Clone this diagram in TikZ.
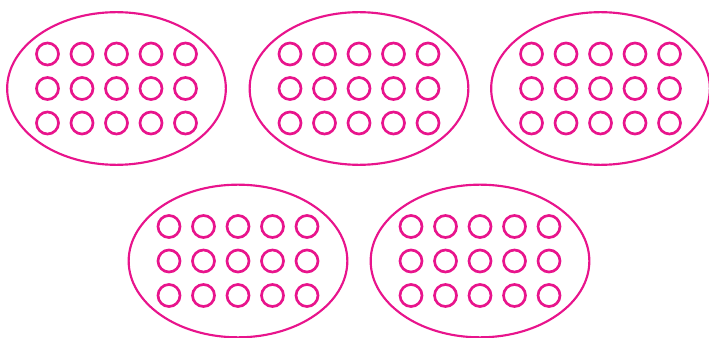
\documentclass[tikz,border=0pt]{standalone}
\usepackage{xcolor}
\usepackage{tikz}
\usetikzlibrary{shapes.geometric, positioning}

\definecolor{dotpink}{RGB}{232,20,140}

\begin{document}
\begin{tikzpicture}[x=0.75pt, y=-0.75pt,
  group/.style={ellipse, draw=dotpink, line width=1.6pt, minimum width=164pt, minimum height=114.5pt, inner sep=0pt},
  dot/.style={circle, draw=dotpink, line width=2pt, minimum size=16.5pt, inner sep=0pt}]
  \useasboundingbox (0,0) rectangle (709,338);

  % Groups of fifteen
  \foreach \name/\cx/\cy in {g1/116.5/88.5, g2/359/88.5, g3/600.5/88.5, g4/238/261, g5/480/261} {
    \node[group] (\name) at (\cx,\cy) {};
    % Dots
    \foreach \i in {1,...,5}
      \foreach \j in {1,2,3}
        \node[dot] (\name-\i-\j) at ({\cx+(\i-3)*34.5},{\cy+(\j-2)*34.5}) {};
  }
\end{tikzpicture}
\end{document}
